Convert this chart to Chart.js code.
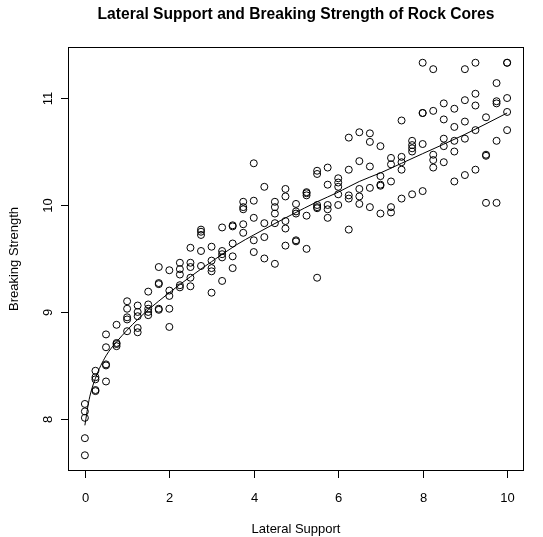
<!DOCTYPE html>
<html>
<head>
<meta charset="utf-8">
<script src="https://cdn.jsdelivr.net/npm/chart.js@4.4.1/dist/chart.umd.min.js"></script>
<style>
  html, body { margin: 0; padding: 0; background: #fff; }
  canvas { display: block; }
</style>
</head>
<body>
<canvas id="rockChart" width="543" height="537"></canvas>
<script>
// measured cores: lateral support vs breaking strength
const lateralSupport = [
  0, 0, 0, 0, 0,
  0.25, 0.25, 0.25, 0.25, 0.25,
  0.5, 0.5, 0.5, 0.5, 0.5,
  0.75, 0.75, 0.75, 0.75,
  1, 1, 1, 1, 1,
  1.25, 1.25, 1.25, 1.25, 1.25,
  1.5, 1.5, 1.5, 1.5, 1.5,
  1.75, 1.75, 1.75, 1.75, 1.75,
  2, 2, 2, 2, 2,
  2.25, 2.25, 2.25, 2.25, 2.25,
  2.5, 2.5, 2.5, 2.5, 2.5,
  2.75, 2.75, 2.75, 2.75, 2.75,
  3, 3, 3, 3, 3,
  3.25, 3.25, 3.25, 3.25, 3.25,
  3.5, 3.5, 3.5, 3.5, 3.5,
  3.75, 3.75, 3.75, 3.75, 3.75,
  4, 4, 4, 4, 4,
  4.25, 4.25, 4.25, 4.25,
  4.5, 4.5, 4.5, 4.5, 4.5,
  4.75, 4.75, 4.75, 4.75, 4.75,
  5, 5, 5, 5, 5,
  5.25, 5.25, 5.25, 5.25, 5.25,
  5.5, 5.5, 5.5, 5.5, 5.5, 5.5,
  5.75, 5.75, 5.75, 5.75, 5.75,
  6, 6, 6, 6, 6,
  6.25, 6.25, 6.25, 6.25, 6.25,
  6.5, 6.5, 6.5, 6.5, 6.5,
  6.75, 6.75, 6.75, 6.75, 6.75,
  7, 7, 7, 7, 7,
  7.25, 7.25, 7.25, 7.25, 7.25,
  7.5, 7.5, 7.5, 7.5, 7.5,
  7.75, 7.75, 7.75, 7.75, 7.75,
  8, 8, 8, 8, 8,
  8.25, 8.25, 8.25, 8.25, 8.25,
  8.5, 8.5, 8.5, 8.5, 8.5,
  8.75, 8.75, 8.75, 8.75, 8.75,
  9, 9, 9, 9, 9,
  9.25, 9.25, 9.25, 9.25, 9.25,
  9.5, 9.5, 9.5, 9.5,
  9.75, 9.75, 9.75, 9.75, 9.75,
  10, 10, 10, 10, 10
];
const breakingStrength = [
  8.14, 8.07, 8.01, 7.82, 7.66,
  8.45, 8.39, 8.37, 8.27, 8.26,
  8.79, 8.67, 8.51, 8.50, 8.35,
  8.88, 8.71, 8.70, 8.68,
  9.10, 9.03, 8.95, 8.93, 8.82,
  9.06, 9.00, 8.96, 8.85, 8.81,
  9.19, 9.07, 9.03, 9.00, 8.97,
  9.42, 9.27, 9.26, 9.03, 9.02,
  9.39, 9.20, 9.15, 9.03, 8.86,
  9.46, 9.40, 9.35, 9.25, 9.23,
  9.60, 9.46, 9.42, 9.32, 9.24,
  9.77, 9.75, 9.72, 9.57, 9.43,
  9.61, 9.48, 9.41, 9.38, 9.18,
  9.79, 9.57, 9.54, 9.51, 9.29,
  9.81, 9.80, 9.64, 9.52, 9.41,
  10.03, 9.98, 9.96, 9.82, 9.74,
  10.39, 10.04, 9.88, 9.67, 9.56,
  10.17, 9.83, 9.70, 9.50,
  10.03, 9.98, 9.92, 9.83, 9.45,
  10.15, 10.08, 9.85, 9.78, 9.62,
  10.01, 9.94, 9.92, 9.67, 9.66,
  10.12, 10.11, 10.09, 9.90, 9.59,
  10.32, 10.29, 10.00, 9.98, 9.97, 9.32,
  10.35, 10.19, 10.00, 9.96, 9.88,
  10.25, 10.21, 10.17, 10.10, 10.00,
  10.63, 10.33, 10.09, 10.06, 9.77,
  10.68, 10.41, 10.15, 10.08, 10.01,
  10.67, 10.59, 10.36, 10.16, 9.98,
  10.55, 10.27, 10.19, 10.18, 9.92,
  10.44, 10.38, 10.22, 9.98, 9.93,
  10.79, 10.45, 10.40, 10.33, 10.06,
  10.60, 10.56, 10.53, 10.50, 10.10,
  11.33, 10.86, 10.86, 10.57, 10.13,
  11.27, 10.88, 10.47, 10.42, 10.35,
  10.95, 10.80, 10.62, 10.55, 10.40,
  10.90, 10.73, 10.60, 10.50, 10.22,
  11.27, 10.98, 10.78, 10.62, 10.28,
  11.33, 11.04, 10.93, 10.70, 10.33,
  10.82, 10.47, 10.46, 10.02,
  11.14, 10.97, 10.95, 10.60, 10.02,
  11.33, 11.33, 11.00, 10.87, 10.70
];

// fitted curve, read at a handful of support values
const fitSupport  = [0, 0.1, 0.25, 0.5, 0.75, 1, 1.25, 1.5, 2, 2.5, 3, 3.6, 4, 4.9, 5.5, 6, 6.5, 7, 7.5, 8, 9, 10];
const fitStrength = [7.94, 8.18, 8.38, 8.59, 8.72, 8.83, 8.93, 9.02, 9.18, 9.33, 9.47, 9.63, 9.72, 9.91, 10.03, 10.12, 10.22, 10.30, 10.39, 10.48, 10.66, 10.86];

const xTicks = [0, 2, 4, 6, 8, 10];
const yTicks = [8, 9, 10, 11];

const FONT = "'Liberation Sans', Arial, Helvetica, sans-serif";

// R-style box, ticks and axis labels
const baseAxes = {
  id: 'baseAxes',
  afterDraw(chart) {
    const ctx = chart.ctx;
    const area = chart.chartArea;
    const sx = chart.scales.x, sy = chart.scales.y;
    ctx.save();
    ctx.strokeStyle = '#000';
    ctx.lineWidth = 1;
    ctx.strokeRect(Math.round(area.left) + 0.5, Math.round(area.top) + 0.5,
      Math.round(area.right - area.left) - 1, Math.round(area.bottom - area.top) - 1);

    ctx.fillStyle = '#000';
    ctx.font = '13px ' + FONT;

    // x axis
    ctx.textAlign = 'center';
    ctx.textBaseline = 'alphabetic';
    xTicks.forEach(v => {
      const px = Math.round(sx.getPixelForValue(v)) + 0.5;
      ctx.beginPath();
      ctx.moveTo(px, area.bottom);
      ctx.lineTo(px, area.bottom + 7);
      ctx.stroke();
      ctx.fillText(String(v), px, 501.5);
    });
    ctx.fillText('Lateral Support', (area.left + area.right) / 2, 533);

    // y axis, labels turned to read upward
    yTicks.forEach(v => {
      const py = Math.round(sy.getPixelForValue(v)) + 0.5;
      ctx.beginPath();
      ctx.moveTo(area.left - 7, py);
      ctx.lineTo(area.left, py);
      ctx.stroke();
      ctx.save();
      ctx.translate(52, py);
      ctx.rotate(-Math.PI / 2);
      ctx.fillText(String(v), 0, 0);
      ctx.restore();
    });
    ctx.save();
    ctx.translate(18, (area.top + area.bottom) / 2);
    ctx.rotate(-Math.PI / 2);
    ctx.fillText('Breaking Strength', 0, 0);
    ctx.restore();
    ctx.restore();
  }
};

const ctx1 = document.getElementById('rockChart');

new Chart(ctx1, {
  type: 'scatter',
  data: {
    datasets: [{
      label: 'Cores',
      data: lateralSupport.map((v, i) => ({ x: v, y: breakingStrength[i] })),
      pointStyle: 'circle',
      pointRadius: 3.5,
      pointBorderWidth: 1,
      borderColor: '#000',
      backgroundColor: 'rgba(0,0,0,0)'
    }, {
      label: 'Fit',
      data: fitSupport.map((v, i) => ({ x: v, y: fitStrength[i] })),
      showLine: true,
      cubicInterpolationMode: 'monotone',
      pointRadius: 0,
      borderWidth: 1,
      borderColor: '#000'
    }]
  },
  options: {
    responsive: false,
    animation: false,
    layout: {
      padding: { left: 68, right: 19, top: 0, bottom: 66 }
    },
    scales: {
      x: { type: 'linear', min: -0.4, max: 10.4, display: false },
      y: { type: 'linear', min: 7.513, max: 11.477, display: false }
    },
    plugins: {
      legend: { display: false },
      tooltip: { enabled: false },
      title: {
        display: true,
        text: 'Lateral Support and Breaking Strength of Rock Cores',
        color: '#000',
        font: { family: FONT, size: 15.6, weight: 'bold', lineHeight: 1.2 },
        padding: { top: 5, bottom: 23.3 }
      }
    }
  },
  plugins: [baseAxes]
});
</script>
</body>
</html>
